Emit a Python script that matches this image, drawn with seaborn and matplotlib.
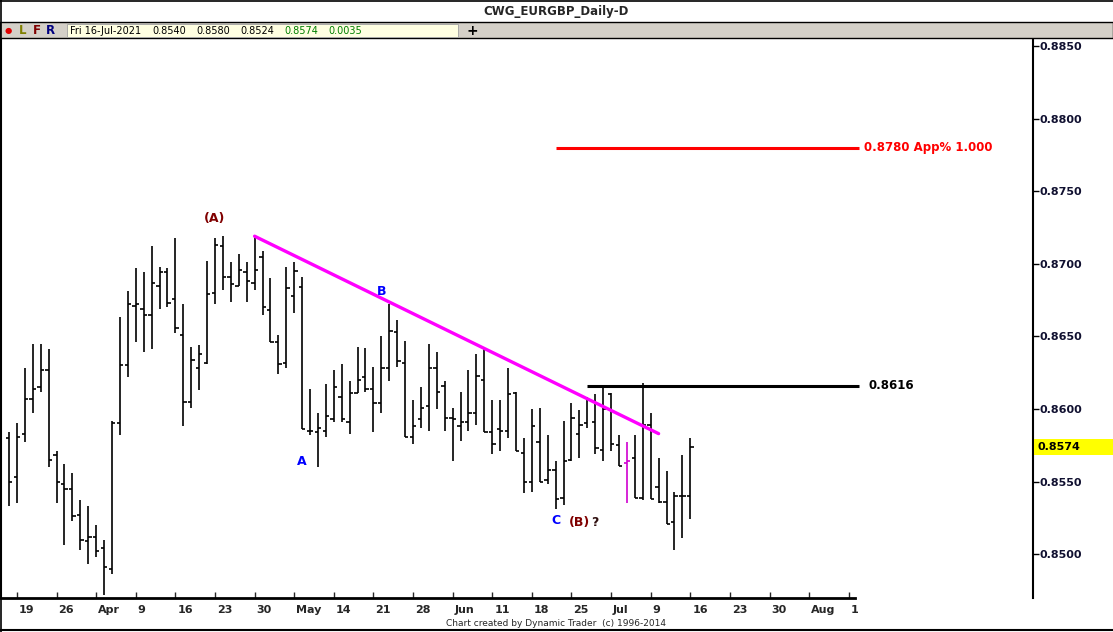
import numpy as np
import pandas as pd
import matplotlib
matplotlib.use("Agg")
import matplotlib.pyplot as plt
import matplotlib.transforms as mtransforms
from matplotlib.lines import Line2D
from matplotlib.patches import Rectangle
import seaborn as sns

# ---------------------------------------------------------------------
# DATA: EURGBP daily bars, 18-Mar-2021 .. 16-Jul-2021
# ---------------------------------------------------------------------
dates = pd.bdate_range("2021-03-18", "2021-07-16")

opens = [0.8580, 0.8553, 0.8583, 0.8607, 0.8615, 0.8627, 0.8568, 0.8548, 0.8545, 0.8527,
         0.8509, 0.8512, 0.8504, 0.8490, 0.8590, 0.8630, 0.8671, 0.8669, 0.8665, 0.8685,
         0.8694, 0.8676, 0.8651, 0.8605, 0.8628, 0.8632, 0.8680, 0.8712, 0.8691, 0.8685,
         0.8694, 0.8687, 0.8705, 0.8668, 0.8646, 0.8632, 0.8678, 0.8684, 0.8585, 0.8584,
         0.8585, 0.8593, 0.8608, 0.8591, 0.8611, 0.8622, 0.8614, 0.8604, 0.8628, 0.8653,
         0.8632, 0.8581, 0.8593, 0.8602, 0.8628, 0.8616, 0.8594, 0.8588, 0.8591, 0.8597,
         0.8620, 0.8584, 0.8586, 0.8585, 0.8611, 0.8570, 0.8550, 0.8577, 0.8551, 0.8558,
         0.8539, 0.8565, 0.8583, 0.8590, 0.8591, 0.8572, 0.8610, 0.8575, 0.8563, 0.8566,
         0.8539, 0.8589, 0.8546, 0.8536, 0.8522, 0.8540, 0.8540]
highs = [0.8584, 0.8590, 0.8628, 0.8645, 0.8645, 0.8641, 0.8571, 0.8562, 0.8556, 0.8537,
         0.8533, 0.8520, 0.8510, 0.8592, 0.8663, 0.8681, 0.8697, 0.8694, 0.8712, 0.8698,
         0.8697, 0.8718, 0.8672, 0.8643, 0.8644, 0.8702, 0.8718, 0.8719, 0.8701, 0.8707,
         0.8701, 0.8719, 0.8709, 0.8690, 0.8651, 0.8698, 0.8701, 0.8691, 0.8614, 0.8597,
         0.8617, 0.8627, 0.8631, 0.8619, 0.8643, 0.8642, 0.8629, 0.8650, 0.8672, 0.8661,
         0.8647, 0.8606, 0.8615, 0.8645, 0.8639, 0.8619, 0.8601, 0.8612, 0.8627, 0.8638,
         0.8642, 0.8606, 0.8606, 0.8628, 0.8612, 0.8580, 0.8600, 0.8601, 0.8582, 0.8564,
         0.8592, 0.8604, 0.8599, 0.8608, 0.8610, 0.8616, 0.8611, 0.8582, 0.8577, 0.8582,
         0.8618, 0.8597, 0.8566, 0.8557, 0.8543, 0.8568, 0.8580]
lows = [0.8533, 0.8535, 0.8577, 0.8597, 0.8612, 0.8560, 0.8535, 0.8506, 0.8523, 0.8503,
        0.8493, 0.8498, 0.8472, 0.8486, 0.8582, 0.8622, 0.8646, 0.8639, 0.8641, 0.8669,
        0.8670, 0.8652, 0.8588, 0.8601, 0.8613, 0.8631, 0.8672, 0.8682, 0.8674, 0.8685,
        0.8674, 0.8682, 0.8665, 0.8646, 0.8624, 0.8628, 0.8666, 0.8586, 0.8582, 0.8560,
        0.8581, 0.8591, 0.8591, 0.8583, 0.8611, 0.8612, 0.8584, 0.8597, 0.8619, 0.8629,
        0.8581, 0.8576, 0.8587, 0.8585, 0.8600, 0.8585, 0.8564, 0.8578, 0.8585, 0.8589,
        0.8584, 0.8569, 0.8571, 0.8580, 0.8571, 0.8542, 0.8543, 0.8550, 0.8548, 0.8531,
        0.8534, 0.8564, 0.8566, 0.8587, 0.8569, 0.8564, 0.8571, 0.8561, 0.8535, 0.8539,
        0.8537, 0.8538, 0.8535, 0.8521, 0.8503, 0.8511, 0.8524]
closes = [0.8550, 0.8581, 0.8607, 0.8614, 0.8627, 0.8565, 0.8550, 0.8545, 0.8526, 0.8510,
          0.8512, 0.8502, 0.8491, 0.8590, 0.8630, 0.8672, 0.8672, 0.8665, 0.8687, 0.8694,
          0.8673, 0.8656, 0.8605, 0.8634, 0.8638, 0.8679, 0.8713, 0.8691, 0.8686, 0.8696,
          0.8688, 0.8696, 0.8670, 0.8646, 0.8631, 0.8683, 0.8695, 0.8586, 0.8585, 0.8587,
          0.8595, 0.8615, 0.8593, 0.8611, 0.8620, 0.8614, 0.8604, 0.8628, 0.8654, 0.8633,
          0.8581, 0.8588, 0.8601, 0.8628, 0.8612, 0.8594, 0.8593, 0.8591, 0.8597, 0.8623,
          0.8584, 0.8576, 0.8585, 0.8610, 0.8571, 0.8550, 0.8588, 0.8550, 0.8558, 0.8538,
          0.8564, 0.8594, 0.8589, 0.8606, 0.8573, 0.8600, 0.8576, 0.8561, 0.8564, 0.8539,
          0.8589, 0.8538, 0.8536, 0.8521, 0.8540, 0.8540, 0.8574]
highlight_date = "2021-07-06"   # the magenta bar

# trendline and projection levels
trend_dates = ["2021-04-30", "2021-07-12"]
trend_prices = [0.8719, 0.8583]
target_price = 0.8780
target_start = "2021-06-23"
level_price = 0.8616
level_start = "2021-06-29"
level_end = "2021-08-16"
last_close = 0.8574

y_ticks = [0.8500, 0.8550, 0.8600, 0.8650, 0.8700, 0.8750, 0.8800, 0.8850]
x_tick_dates = pd.date_range("2021-03-19", "2021-08-13", freq="W-FRI")

# wave labels: (text, date, price, colour)
wave_labels = [
    ("(A)", "2021-04-23", 0.87315, "#800000"),
    ("B", "2021-05-24", 0.86806, "#0000ff"),
    ("A", "2021-05-10", 0.85635, "#0000ff"),
    ("C", "2021-06-23", 0.85229, "#0000ff"),
    ("(B)", "2021-06-28", 0.85215, "#800000"),
    ("?", "2021-06-30", 0.85215, "#301010"),
]

# ---------------------------------------------------------------------
# bar index lookup (trading days, including future days for the axis)
# ---------------------------------------------------------------------
all_days = pd.bdate_range("2021-03-18", "2021-09-30")
pos = pd.Series(np.arange(len(all_days)), index=all_days)


def ix(d):
    return pos[pd.Timestamp(d)]


sns.set_style("white")
plt.rcParams["font.family"] = ["DejaVu Sans"]

W, H = 1113, 632
fig = plt.figure(figsize=(W / 100, H / 100), dpi=100)
fig.patch.set_facecolor("white")

ax_left, ax_right, ax_top, ax_bottom = 1, 1033, 38, 598
ax = fig.add_axes([ax_left / W, 1 - ax_bottom / H, (ax_right - ax_left) / W, (ax_bottom - ax_top) / H])

df = pd.DataFrame({"date": dates, "open": opens, "high": highs, "low": lows, "close": closes})
df["x"] = [ix(d) for d in df["date"]]
df["color"] = np.where(df["date"] == pd.Timestamp(highlight_date), "#d000d0", "black")

ax.vlines(df["x"], df["low"], df["high"], colors=df["color"], lw=1.2)
ax.hlines(df["open"], df["x"] - 0.42, df["x"], colors=df["color"], lw=1.2)
ax.hlines(df["close"], df["x"], df["x"] + 0.42, colors=df["color"], lw=1.2)

# trendline
trend = pd.DataFrame({"x": [ix(d) for d in trend_dates], "y": trend_prices})
sns.lineplot(data=trend, x="x", y="y", color="#ff00ff", lw=2.4, ax=ax)

# projection lines
x_end = ix(level_end) + 0.3
ax.hlines(target_price, ix(target_start), x_end, color="#ff0000", lw=2.2)
ax.hlines(level_price, ix(level_start), x_end, color="black", lw=2.2)
ax.text(x_end + 0.6, target_price, "0.8780 App% 1.000", color="#ff0000", fontsize=8.5,
        fontweight="bold", va="center", ha="left")
ax.text(x_end + 1.2, level_price, "0.8616", color="black", fontsize=8.5,
        fontweight="bold", va="center", ha="left")

for txt, d, p, c in wave_labels:
    ax.text(ix(d), p, txt, color=c, fontsize=9, fontweight="bold", ha="center", va="center")

# axes limits and ticks
x0 = -1.01
ax.set_xlim(x0, x0 + (ax_right - ax_left) / 7.922)
ax.set_ylim(0.84698, 0.88555)
ax.set_xlabel("")
ax.set_ylabel("")

ax.yaxis.tick_right()
ax.set_yticks(y_ticks)
ax.set_yticklabels([f"{v:.4f}" for v in y_ticks])
ax.tick_params(axis="y", right=True, left=False, direction="out", length=4, width=1,
               pad=1, labelsize=8, colors="black")
for lab in ax.get_yticklabels():
    lab.set_fontweight("bold")
    lab.set_color("#101030")

xt_labels = []
for d in x_tick_dates:
    if d.day <= 7:
        xt_labels.append(d.strftime("%b"))
    else:
        xt_labels.append(str(d.day))
xt_labels[-1] = "1"
ax.set_xticks([ix(d) for d in x_tick_dates])
ax.set_xticklabels(xt_labels)
ax.tick_params(axis="x", bottom=True, direction="in", length=4, width=1, pad=5, labelsize=8)
shift = mtransforms.ScaledTranslation(2 / 100, 0, fig.dpi_scale_trans)
for lab in ax.get_xticklabels():
    lab.set_fontweight("bold")
    lab.set_horizontalalignment("left")
    lab.set_transform(lab.get_transform() + shift)

ax.spines["top"].set_visible(False)
ax.spines["left"].set_color("black")
ax.spines["left"].set_linewidth(1.5)
ax.spines["right"].set_color("black")
ax.spines["right"].set_linewidth(1.5)
ax.spines["bottom"].set_color("black")
ax.spines["bottom"].set_linewidth(2)
ax.spines["bottom"].set_bounds(x0, x0 + (855 - ax_left) / 7.922)
ax.grid(False)


# ---------------------------------------------------------------------
# frame, header, footer and last price box
# ---------------------------------------------------------------------
def fx(px):
    return px / W


def fy(py):
    return 1 - py / H


fig.patches.append(Rectangle((fx(1034), fy(455)), 79 / W, 16 / H,
                             transform=fig.transFigure, fc="#ffff00", ec="none"))
fig.text(fx(1037), fy(447), f"{last_close:.4f}", fontsize=8, fontweight="bold",
         color="black", va="center", ha="left")

fig.patches.append(Rectangle((0, fy(38)), 1, (38 - 22) / H, transform=fig.transFigure,
                             fc="#d4d0c8", ec="black", lw=1))
fig.patches.append(Rectangle((fx(67), fy(37)), fx(458 - 67), 13 / H, transform=fig.transFigure,
                             fc="#ffffe1", ec="#a0a0a0", lw=0.6))
fig.lines.append(Line2D([0, 1], [fy(0.5), fy(0.5)], transform=fig.transFigure, color="black", lw=1.2))
fig.lines.append(Line2D([fx(0.5), fx(0.5)], [0, 1], transform=fig.transFigure, color="black", lw=1.2))
fig.lines.append(Line2D([0, 1], [fy(630), fy(630)], transform=fig.transFigure, color="black", lw=1.5))

fig.text(0.5, fy(11), "CWG_EURGBP_Daily-D", ha="center", va="center", fontsize=8.5, fontweight="bold")
fig.text(fx(5), fy(31), "\u25cf", color="#e00000", fontsize=6, va="center")
fig.text(fx(19), fy(31), "L", color="#808000", fontsize=8.5, fontweight="bold", va="center")
fig.text(fx(33), fy(31), "F", color="#800000", fontsize=8.5, fontweight="bold", va="center")
fig.text(fx(46), fy(31), "R", color="#000080", fontsize=8.5, fontweight="bold", va="center")
info = [("Fri 16-Jul-2021", 70, "black"), ("0.8540", 152, "black"), ("0.8580", 196, "black"),
        ("0.8524", 240, "black"), ("0.8574", 284, "#008000"), ("0.0035", 328, "#008000")]
for t, px, c in info:
    fig.text(fx(px), fy(31), t, color=c, fontsize=7, va="center", ha="left")
fig.text(fx(472), fy(31), "+", color="black", fontsize=10, fontweight="bold", va="center", ha="center")
fig.text(fx(556), fy(624), "Chart created by Dynamic Trader  (c) 1996-2014", ha="center",
         va="center", fontsize=6.5)

fig.savefig("out.png", dpi=100)
